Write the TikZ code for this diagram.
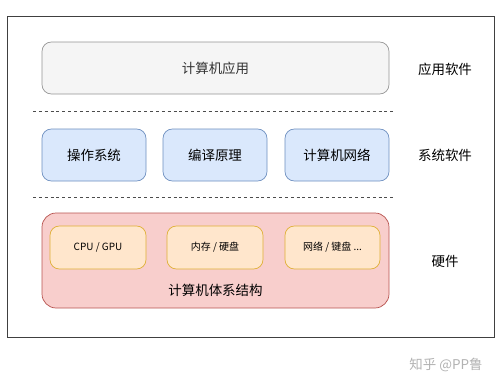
\documentclass[tikz,border=0pt]{standalone}
\usepackage{fontspec}
\setmainfont{Noto Sans CJK SC}
\definecolor{appfill}{HTML}{F5F5F5}
\definecolor{appline}{HTML}{666666}
\definecolor{sysfill}{HTML}{DAE8FC}
\definecolor{sysline}{HTML}{6C8EBF}
\definecolor{hwfill}{HTML}{F8CECC}
\definecolor{hwline}{HTML}{B85450}
\definecolor{partfill}{HTML}{FFE6CC}
\definecolor{partline}{HTML}{D79B00}
\begin{document}
\begin{tikzpicture}[x=0.03cm, y=-0.03cm, thick,
  box/.style={draw, rounded corners=8pt, line width=0.6pt},
  layer/.style={font=\fontsize{11.5}{13}\selectfont},
  part/.style={font=\fontsize{8.5}{10}\selectfont}]
\useasboundingbox (0,0) rectangle (500,387);
\draw[line width=0.8pt, black!75] (7,16) rectangle (494,337);

\draw[box, fill=appfill, draw=appline!70] (42,42) rectangle (389,94);
\node[layer, text=black!80] (app) at (215.5,68) {计算机应用};

\draw[dash pattern=on 2.5pt off 2.5pt, line width=0.5pt, black!70] (33,111) -- (396,111);

\draw[box, fill=sysfill, draw=sysline] (42,129) rectangle (146,181);
\node[layer] (os) at (94,155) {操作系统};

\draw[box, fill=sysfill, draw=sysline] (163,129) rectangle (267,181);
\node[layer] (compiler) at (215,155) {编译原理};

\draw[box, fill=sysfill, draw=sysline] (285,129) rectangle (389,181);
\node[layer] (net) at (337,155) {计算机网络};

\draw[dash pattern=on 2.5pt off 2.5pt, line width=0.5pt, black!70] (33,197) -- (396,197);

\draw[box, rounded corners=12pt, fill=hwfill, draw=hwline] (42,213) rectangle (389,308);

\draw[box, fill=partfill, draw=partline!80] (50,226) rectangle (146,269);
\node[part] (cpu) at (98,247.5) {CPU / GPU};

\draw[box, fill=partfill, draw=partline!80] (167,226) rectangle (263,269);
\node[part] (mem) at (215,247.5) {内存 / 硬盘};

\draw[box, fill=partfill, draw=partline!80] (285,226) rectangle (380,269);
\node[part] (io) at (332.5,247.5) {网络 / 键盘 ...};

\node[layer] (arch) at (215.5,290) {计算机体系结构};

\node[layer] (appsw) at (445,69) {应用软件};
\node[layer] (syssw) at (445,155) {系统软件};
\node[layer] (hw) at (445,261) {硬件};

\node[layer, text=black!30] (mark) at (446,365) {知乎 @PP鲁};
\end{tikzpicture}
\end{document}
